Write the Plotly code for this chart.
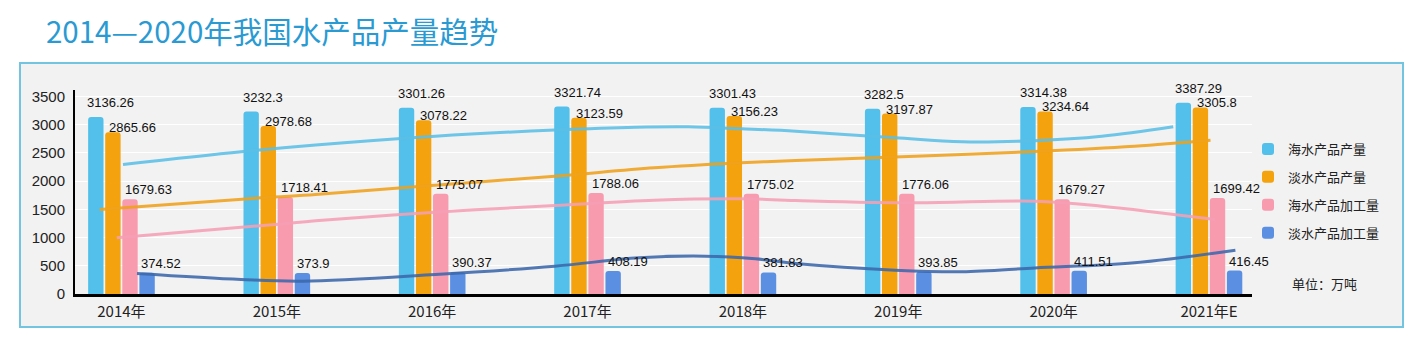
import plotly.graph_objects as go

# ---------------- data ----------------
years = ["2014年", "2015年", "2016年", "2017年", "2018年", "2019年", "2020年", "2021年E"]
series_names = ["海水产品产量", "淡水产品产量", "海水产品加工量", "淡水产品加工量"]
sea_output = [3136.26, 3232.3, 3301.26, 3321.74, 3301.43, 3282.5, 3314.38, 3387.29]
fresh_output = [2865.66, 2978.68, 3078.22, 3123.59, 3156.23, 3197.87, 3234.64, 3305.8]
sea_processed = [1679.63, 1718.41, 1775.07, 1788.06, 1775.02, 1776.06, 1679.27, 1699.42]
fresh_processed = [374.52, 373.9, 390.37, 408.19, 381.83, 393.85, 411.51, 416.45]

# decorative trend curves (x in category-index units, y in 万吨)
trend_sea_x = [0.01, 0.77, 1.25, 2.02, 2.79, 3.31, 3.65, 3.99, 4.34, 4.98, 5.41, 5.88, 6.31, 6.77]
trend_sea_y = [2295, 2520, 2640, 2796, 2906, 2956, 2963, 2928, 2885, 2768, 2697, 2717, 2796, 2963]
trend_fresh_x = [-0.14, 0.90, 1.25, 1.89, 2.79, 3.43, 3.99, 4.34, 5.11, 5.88, 6.52, 7.01]
trend_fresh_y = [1497, 1705, 1763, 1900, 2088, 2236, 2325, 2366, 2442, 2525, 2619, 2725]
trend_seaproc_x = [-0.03, 0.99, 1.25, 2.02, 2.79, 3.43, 3.99, 4.34, 5.11, 5.88, 6.31, 7.04]
trend_seaproc_y = [996, 1232, 1299, 1450, 1568, 1662, 1687, 1657, 1616, 1645, 1556, 1320]
trend_freshproc_x = [0.10, 0.77, 1.17, 2.02, 2.79, 3.33, 3.76, 4.08, 4.34, 4.98, 5.41, 5.88, 6.52, 7.17]
trend_freshproc_y = [363, 257, 227, 346, 493, 642, 670, 624, 540, 422, 393, 461, 553, 776]

# ---------------- styles ----------------
bar_colors = ["#52C0EA", "#F4A20E", "#F89BAF", "#5A8FE2"]
line_colors = ["#5BBFE6", "#EFA21C", "#F6A0B5", "#3D68AC"]
label_xshift = [-36, -14, 2, 18]
label_yshift = [5, -5, 0, 0]
FONT = "Arial, 'Liberation Sans', 'Noto Sans CJK SC', sans-serif"
CJK = "'Noto Sans CJK SC', 'Microsoft YaHei', sans-serif"

W, H = 1419, 342
ML, MR, MT, MB = 75, 167, 90, 48
plot_w = W - ML - MR
plot_h = H - MT - MB

bar_values = [sea_output, fresh_output, sea_processed, fresh_processed]
trends = [(trend_sea_x, trend_sea_y), (trend_fresh_x, trend_fresh_y),
          (trend_seaproc_x, trend_seaproc_y), (trend_freshproc_x, trend_freshproc_y)]

fig = go.Figure()
for name, vals, col in zip(series_names, bar_values, bar_colors):
    fig.add_trace(go.Bar(
        x=years, y=vals, name=name, legendgroup=name,
        marker=dict(color=col, cornerradius=3, line=dict(width=0)),
        hoverinfo="x+y+name",
    ))

for (tx, ty), col in zip(trends, line_colors):
    fig.add_trace(go.Scatter(
        x=tx, y=ty, xaxis="x2", yaxis="y", mode="lines",
        line=dict(color=col, width=3, shape="spline", smoothing=1),
        opacity=0.88, showlegend=False, hoverinfo="skip",
    ))

annotations = []
for vals, dx, dy in zip(bar_values, label_xshift, label_yshift):
    for yr, v in zip(years, vals):
        annotations.append(dict(
            x=yr, y=v, xref="x", yref="y", text=str(v), showarrow=False,
            xanchor="left", yanchor="bottom", xshift=dx, yshift=dy,
            font=dict(family=FONT, size=13, color="#111111"),
        ))

annotations.append(dict(
    x=(1290 - ML) / plot_w, y=(plot_h - (283 - MT)) / plot_h, xref="paper", yref="paper",
    text="单位：万吨", showarrow=False, xanchor="left", yanchor="middle",
    font=dict(family=CJK, size=13, color="#222222"),
))

xr = [-0.299, 7.277]
fig.update_layout(
    width=W, height=H,
    margin=dict(l=ML, r=MR, t=MT, b=MB, pad=0),
    paper_bgcolor="#FFFFFF",
    plot_bgcolor="rgba(0,0,0,0)",
    barmode="group", bargap=0.56, bargroupgap=0.1,
    title=dict(
        text="2014—2020年我国水产品产量趋势",
        x=46 / W, xanchor="left", xref="container",
        y=1 - 33 / H, yanchor="middle", yref="container",
        font=dict(family=CJK, size=29.5, color="#2A9AD3"),
    ),
    xaxis=dict(
        type="category", range=xr, showgrid=False, zeroline=False,
        showline=True, linecolor="#000000", linewidth=3,
        ticks="", ticklabelstandoff=2,
        tickfont=dict(family=CJK, size=15, color="#222222"),
    ),
    xaxis2=dict(
        overlaying="x", range=xr, visible=False, type="linear",
    ),
    yaxis=dict(
        range=[0, 3615], tickvals=[0, 500, 1000, 1500, 2000, 2500, 3000, 3500],
        showgrid=True, gridcolor="#FFFFFF", gridwidth=1, zeroline=False,
        showline=True, linecolor="#000000", linewidth=2,
        ticks="", ticklabelstandoff=5,
        tickfont=dict(family=FONT, size=15, color="#222222"),
    ),
    legend=dict(
        x=(1248 - ML) / plot_w, xanchor="left",
        y=(plot_h - (134 - MT)) / plot_h, yanchor="top",
        bgcolor="rgba(0,0,0,0)", tracegroupgap=8,
        font=dict(family=CJK, size=13, color="#222222"),
        traceorder="grouped",
    ),
    annotations=annotations,
    shapes=[dict(
        type="rect", xref="paper", yref="paper", layer="below",
        x0=(20 - ML) / plot_w, x1=(1403 - ML) / plot_w,
        y0=(plot_h - (327 - MT)) / plot_h, y1=(plot_h - (63 - MT)) / plot_h,
        line=dict(color="#72C4E0", width=2), fillcolor="#F2F2F2",
    )],
    showlegend=True,
)

fig.write_html("out.html")
